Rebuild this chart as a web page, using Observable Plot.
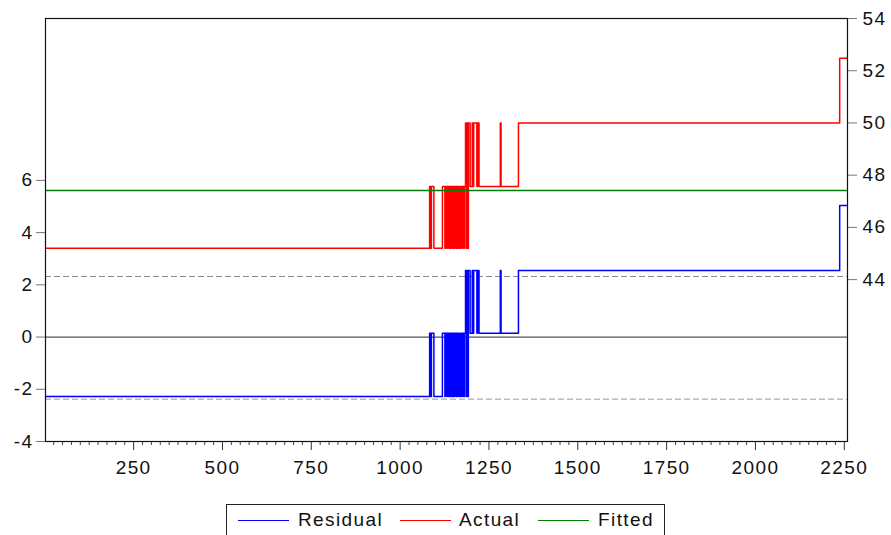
<!DOCTYPE html>
<html>
<head>
<meta charset="utf-8">
<script src="https://cdn.jsdelivr.net/npm/d3@7"></script>
<script src="https://cdn.jsdelivr.net/npm/@observablehq/plot@0.6"></script>
<style>
  html, body { margin: 0; padding: 0; background: white; overflow: hidden; }
  #wrap { position: relative; width: 891px; height: 535px; font-family: "Liberation Sans", Arial, sans-serif; }
  #chart svg text { font-size: 19px !important; letter-spacing: 1.4px; font-family: "Liberation Sans", Arial, sans-serif; fill: #111; }
  #legend { position: absolute; left: 226px; top: 504px; width: 439px; height: 40px; border: 1px solid #222; box-sizing: border-box; }
  .sw { position: absolute; top: 15px; width: 51px; height: 0; border-top: 1.3px solid; }
  .lt { position: absolute; top: 5px; font-size: 19px; letter-spacing: 1.4px; line-height: 20px; color: #111; white-space: nowrap; }
</style>
</head>
<body>
<div id="wrap">
  <div id="chart"></div>
  <div id="legend"></div>
</div>
<script>
// ---- data ----
const obsFirst = 2;
const obsLast = 2259;
// observation at which each level segment starts
const segStart = [1, 1083, 1086, 1088, 1095, 1119, 1126, 1128, 1132, 1133, 1137, 1138, 1141, 1143, 1147, 1148,
  1151, 1153, 1157, 1158, 1161, 1162, 1166, 1170, 1174, 1175, 1179, 1181, 1184, 1186, 1188, 1190,
  1192, 1197, 1203, 1204, 1207, 1216, 1218, 1222, 1282, 1284, 1333, 2237];
// level index of each segment (0 = low, 1 = mid, 2 = high, 3 = top)
const segLevel = [0, 1, 0, 1, 0, 1, 0, 1, 0, 1, 0, 1, 0, 1, 0, 1,
  0, 1, 0, 1, 0, 1, 0, 1, 0, 1, 0, 1, 2, 0, 2, 0,
  2, 1, 2, 1, 2, 1, 2, 1, 2, 1, 2, 3];
const actualLevels = [45.2, 47.57, 50.0, 52.48];     // right axis
const residualLevels = [-2.28, 0.15, 2.55, 5.04];   // left axis
const fittedValue = 47.41;                          // right axis
const bandUpper = 2.32;
const bandLower = -2.38;
const leftTicks = [-4, -2, 0, 2, 4, 6];
const rightTicks = [44, 46, 48, 50, 52, 54];
const xMajorTicks = [250, 500, 750, 1000, 1250, 1500, 1750, 2000, 2250];
const xMinorTicks = d3.range(25, 2251, 25).filter(v => v % 250 !== 0);
const seriesNames = ["Residual", "Actual", "Fitted"];
const seriesColors = ["#0000ff", "#ff0000", "#008000"];

// right axis shares the left axis scale, shifted by this offset
const rightOffset = 41.8;

function stepPoints(levels, shift) {
  const pts = segStart.map((s, i) => ({x: Math.max(s, obsFirst), y: levels[segLevel[i]] - shift}));
  pts.push({x: obsLast, y: levels[segLevel[segLevel.length - 1]] - shift});
  return pts;
}
const residualData = stepPoints(residualLevels, 0);
const actualData = stepPoints(actualLevels, rightOffset);
const fittedData = [{x: obsFirst, y: fittedValue - rightOffset}, {x: obsLast, y: fittedValue - rightOffset}];

const chart = Plot.plot({
  width: 891,
  height: 490,
  marginLeft: 45,
  marginRight: 44,
  marginTop: 18,
  marginBottom: 49,
  x: {domain: [obsFirst, obsLast], label: null},
  y: {domain: [-4, 12.2], label: null},
  style: {fontFamily: "'Liberation Sans', Arial, sans-serif", fontSize: "19px", background: "white", color: "#111"},
  marks: [
    Plot.ruleY([0], {stroke: "#555", strokeWidth: 1.2}),
    Plot.ruleY([bandUpper], {stroke: "#888", strokeDasharray: "6,3"}),
    Plot.ruleY([bandLower], {stroke: "#bbb", strokeDasharray: "6,3", strokeWidth: 1.5}),
    Plot.line(residualData, {x: "x", y: "y", stroke: seriesColors[0], strokeWidth: 1.5, curve: "step-after"}),
    Plot.line(actualData, {x: "x", y: "y", stroke: seriesColors[1], strokeWidth: 1.5, curve: "step-after"}),
    Plot.line(fittedData, {x: "x", y: "y", stroke: seriesColors[2], strokeWidth: 1.4}),
    Plot.axisY({ticks: leftTicks, tickSize: 9, tickPadding: 3, stroke: "#777", label: null, tickFormat: d => String(d)}),
    Plot.axisY({anchor: "right", ticks: rightTicks.map(t => t - rightOffset), tickSize: 9, tickPadding: 6, stroke: "#777", label: null,
      tickFormat: d => String(Math.round(d + rightOffset))}),
    Plot.axisX({ticks: xMinorTicks, tickSize: 4, stroke: "#444", label: null, tickFormat: () => ""}),
    Plot.axisX({ticks: xMajorTicks, tickSize: 9, tickPadding: 10, stroke: "#333", label: null, tickFormat: d => String(d)}),
    Plot.frame({stroke: "#111", strokeWidth: 1.2})
  ]
});
document.getElementById("chart").appendChild(chart);

// legend
const legend = document.getElementById("legend");
const swLeft = [11, 173, 311];
const txLeft = [71, 232, 371];
seriesNames.forEach((name, i) => {
  const sw = document.createElement("div");
  sw.className = "sw";
  sw.style.left = swLeft[i] + "px";
  sw.style.borderTopColor = seriesColors[i];
  legend.appendChild(sw);
  const t = document.createElement("span");
  t.className = "lt";
  t.style.left = txLeft[i] + "px";
  t.textContent = name;
  legend.appendChild(t);
});
</script>
</body>
</html>
